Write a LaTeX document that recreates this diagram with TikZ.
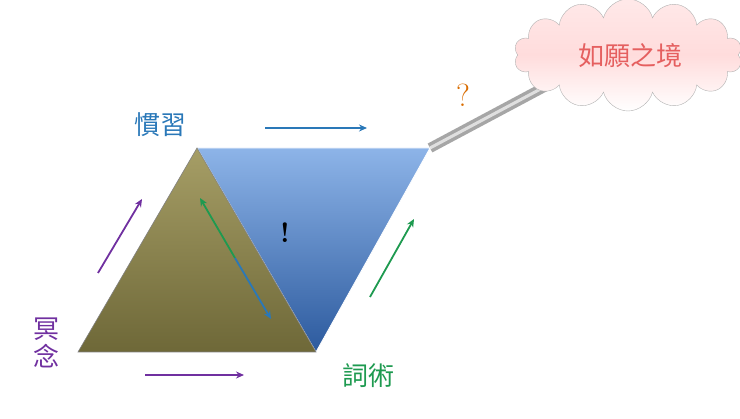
\documentclass[tikz,border=0pt]{standalone}
\usepackage{fontspec}
\newfontfamily\cjk{Noto Sans CJK SC}
\usetikzlibrary{shapes.symbols,arrows.meta}
\definecolor{bluetop}{HTML}{8DB4E8}
\definecolor{bluebot}{HTML}{2C5A9E}
\definecolor{olivetop}{HTML}{A69E66}
\definecolor{olivebot}{HTML}{6E6838}
\definecolor{lblue}{HTML}{2A78B8}
\definecolor{lviolet}{HTML}{7030A0}
\definecolor{lgreen}{HTML}{1E9A50}
\begin{document}
\begin{tikzpicture}[x=1pt,y=-1pt,
  lbl/.style={font=\cjk\fontsize{26}{28}\selectfont},
  arr/.style={-{Stealth[length=8pt,width=7pt]},line width=1.8pt}]
\useasboundingbox (0,0) rectangle (740,419);
\coordinate (A) at (78,352);
\coordinate (T) at (197,148);
\coordinate (B) at (316,352);
\coordinate (R) at (430,148);
\coordinate (C) at (550,84);
% grey bar
\draw[line width=10pt,gray!70,line cap=butt] (R) -- (C);
\draw[line width=3pt,gray!25] (R) -- (C);
% blue triangle
\shade[top color=bluetop,bottom color=bluebot,draw=white,line width=0.8pt] (T) -- (R) -- (B) -- cycle;
% olive triangle
\shade[top color=olivetop,bottom color=olivebot,draw=black!50,line width=0.6pt] (A) -- (T) -- (B) -- cycle;
% cloud
\node[cloud,cloud puffs=14,aspect=2.3,minimum width=228pt,minimum height=112pt,draw=gray!60,
  top color=pink!35!white,bottom color=white,middle color=pink!55!white] (cl) at (628,55) {};
\node[lbl,text=red!45!pink!90!black] (t5) at (630,56) {如願之境};
% labels
\node[lbl,text=lblue] (t1) at (160,125) {慣習};
\node[lbl,text=lviolet,align=center,inner sep=0pt] (t2) at (47,343) {冥\\念};
\node[lbl,text=lgreen] (t3) at (368,376) {詞術};
\node[font=\fontsize{32}{32}\selectfont,text=orange!85!black] (q) at (463,95) {?};
\node[font=\bfseries\fontsize{28}{28}\selectfont] (ex) at (285,233) {!};
% arrows
\coordinate (a1) at (265,128); \coordinate (a2) at (367,128);
\draw[arr,lblue] (a1) -- (a2);
\coordinate (b1) at (98,273); \coordinate (b2) at (142,199);
\draw[arr,lviolet] (b1) -- (b2);
\coordinate (c1) at (145,375); \coordinate (c2) at (244,375);
\draw[arr,lviolet] (c1) -- (c2);
\coordinate (d1) at (370,297); \coordinate (d2) at (414,219);
\draw[arr,lgreen] (d1) -- (d2);
\coordinate (e1) at (200,198); \coordinate (em) at (235,258); \coordinate (e2) at (271,319);
\draw[arr,lgreen,{Stealth[length=8pt,width=7pt]}-] (e1) -- (em);
\draw[arr,lblue] (em) -- (e2);
\end{tikzpicture}
\end{document}
